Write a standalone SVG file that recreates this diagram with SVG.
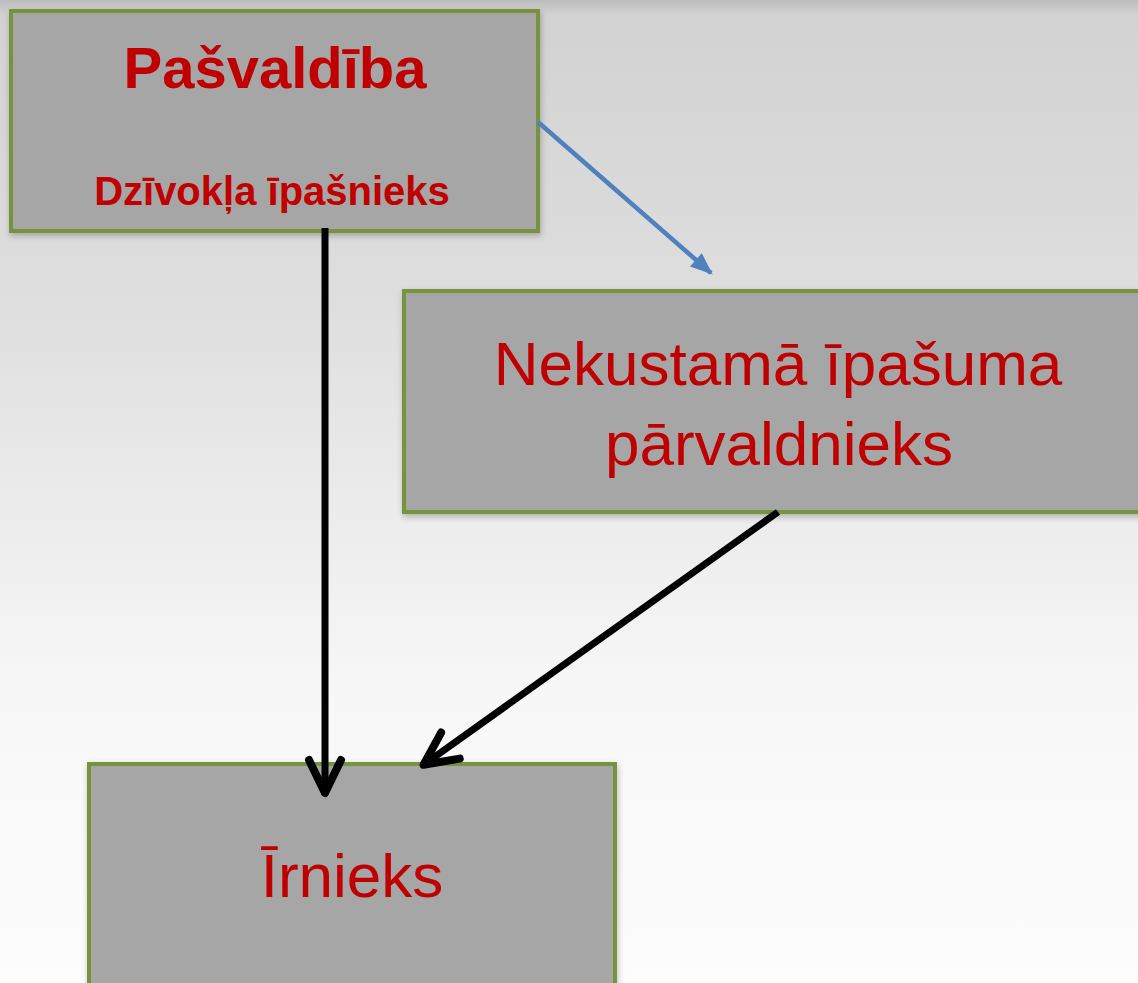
<svg xmlns="http://www.w3.org/2000/svg" width="1138" height="983" viewBox="0 0 1138 983">
<style>
.box{fill:#a6a6a6;stroke:#77933c;stroke-width:4}
.t{fill:#c00000;font-family:"Liberation Sans","Open Sans",sans-serif;text-anchor:middle}
.b{font-weight:bold}
.blk{stroke:#000;stroke-width:7;fill:none}
</style>
<defs>
<linearGradient id="bg" x1="0" y1="0" x2="0" y2="1">
<stop offset="0" stop-color="#bdbdbd"/>
<stop offset="0.015" stop-color="#d2d2d2"/>
<stop offset="0.3" stop-color="#dedede"/>
<stop offset="0.7" stop-color="#f7f7f7"/>
<stop offset="1" stop-color="#fdfdfd"/>
</linearGradient>
<marker id="chev" markerUnits="userSpaceOnUse" markerWidth="60" markerHeight="60" viewBox="-45 -30 60 60" refX="0" refY="0" orient="auto">
<path d="M-30,-16 L3,0 L-30,16" fill="none" stroke="#000" stroke-width="8" stroke-linecap="round" stroke-linejoin="round"/>
</marker>
<marker id="tri" markerUnits="userSpaceOnUse" markerWidth="30" markerHeight="30" viewBox="-22 -10 27 20" refX="0" refY="0" orient="auto">
<path d="M-18,-8 L2,0 L-18,8 Z" fill="#4f81bd"/>
</marker>
<filter id="sh" x="-5%" y="-5%" width="110%" height="115%">
<feDropShadow dx="1" dy="3" stdDeviation="3" flood-color="#000" flood-opacity="0.25"/>
</filter>
</defs>
<rect x="0" y="0" width="1138" height="983" fill="url(#bg)"/>
<g id="node-pasvaldiba">
<rect class="box" x="11" y="11" width="527" height="220" filter="url(#sh)"/>
<text class="t b" x="275" y="88" font-size="58">Pašvaldība</text>
<text class="t b" x="272" y="205" font-size="40">Dzīvokļa īpašnieks</text>
</g>
<g id="node-parvaldnieks">
<rect class="box" x="404" y="291" width="740" height="221" filter="url(#sh)"/>
<text class="t" x="778" y="385" font-size="62">Nekustamā īpašuma</text>
<text class="t" x="779" y="465" font-size="62">pārvaldnieks</text>
</g>
<g id="node-irnieks">
<rect class="box" x="89" y="764" width="526" height="230" filter="url(#sh)"/>
<text class="t" x="352" y="897" font-size="62">Īrnieks</text>
</g>
<g id="connectors">
<line class="blk" x1="325" y1="228" x2="325" y2="790" marker-end="url(#chev)"/>
<line class="blk" x1="778" y1="512" x2="426" y2="763" marker-end="url(#chev)"/>
<line x1="538" y1="122" x2="711" y2="273" stroke="#4f81bd" stroke-width="4.5" marker-end="url(#tri)"/>
</g>
</svg>
